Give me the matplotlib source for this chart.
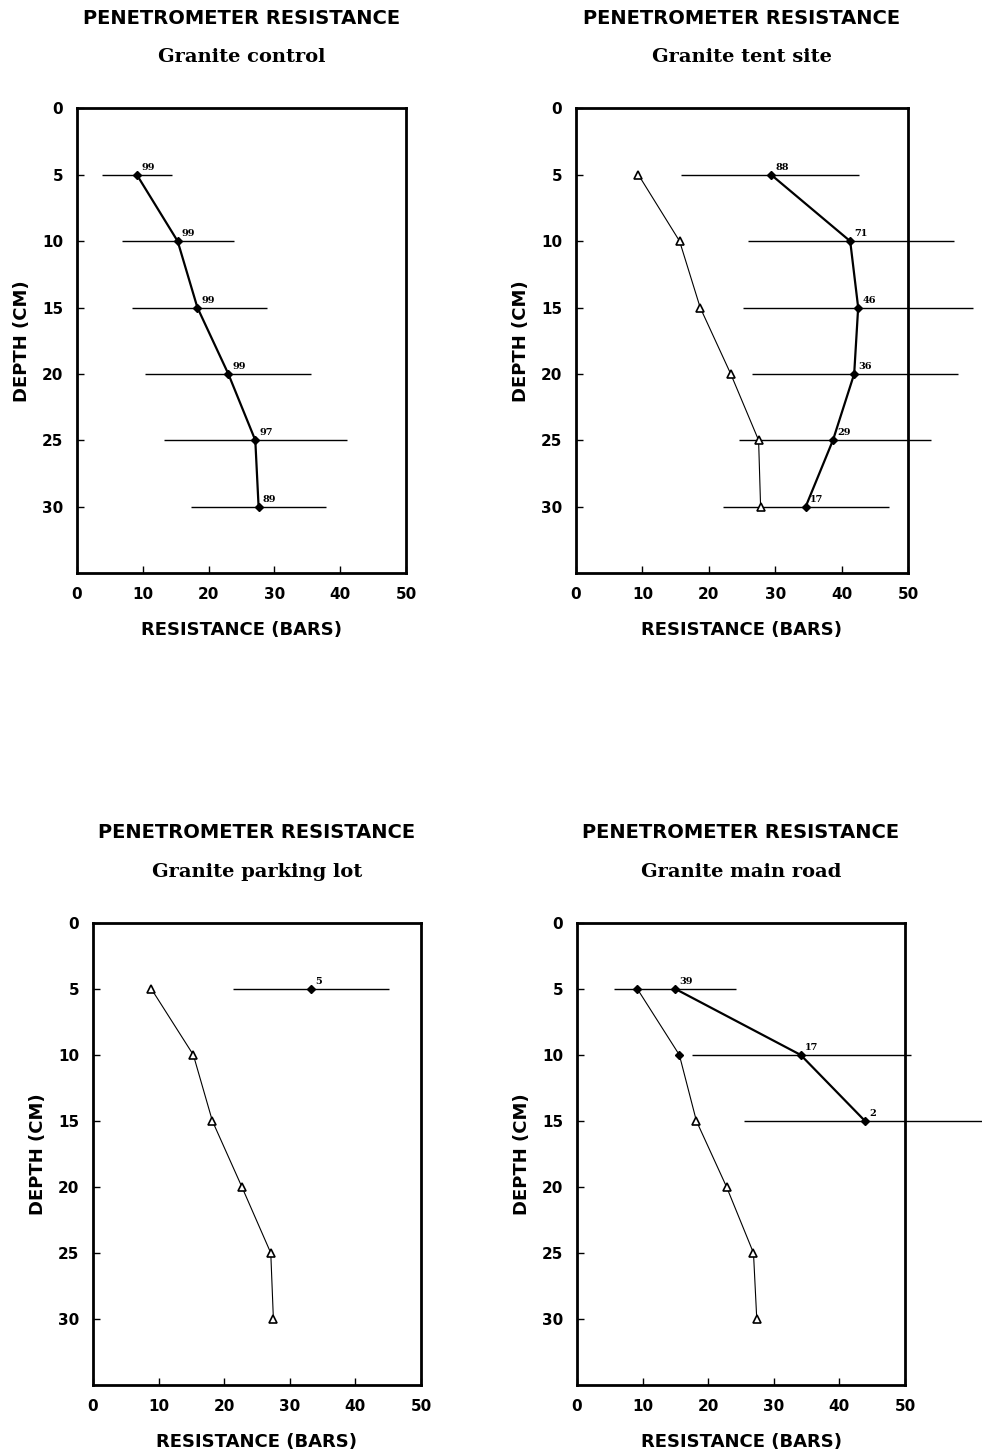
import matplotlib
matplotlib.use("Agg")
import matplotlib.pyplot as plt

# ---------------- data ----------------
depths = [5, 10, 15, 20, 25, 30]
x_ticks = [0, 10, 20, 30, 40, 50]
y_ticks = [0, 5, 10, 15, 20, 25, 30]

# Granite control
ctrl_mean = [9.1, 15.3, 18.3, 23.0, 27.1, 27.6]
ctrl_lo = [3.8, 6.8, 8.3, 10.3, 13.3, 17.4]
ctrl_hi = [14.5, 23.9, 28.9, 35.6, 41.1, 37.9]
ctrl_n = ["99", "99", "99", "99", "97", "89"]

# Granite tent site
tent_ref = [9.4, 15.6, 18.7, 23.3, 27.5, 27.8]
tent_mean = [29.4, 41.3, 42.5, 41.9, 38.7, 34.6]
tent_lo = [15.8, 25.9, 25.2, 26.5, 24.6, 22.2]
tent_hi = [42.7, 56.9, 59.8, 57.6, 53.5, 47.2]
tent_n = ["88", "71", "46", "36", "29", "17"]

# Granite parking lot
park_ref = [8.9, 15.3, 18.2, 22.7, 27.1, 27.5]
park_depth = [5]
park_mean = [33.2]
park_lo = [21.3]
park_hi = [45.1]
park_n = ["5"]

# Granite main road
road_ref = [9.2, 15.6, 18.2, 22.8, 26.9, 27.4]
road_depth = [5, 10, 15]
road_mean = [15.0, 34.1, 43.9]
road_lo = [5.7, 17.5, 25.5]
road_hi = [24.2, 50.9, 62.0]
road_n = ["39", "17", "2"]

subtitles = ["Granite control", "Granite tent site",
             "Granite parking lot", "Granite main road"]
title = "PENETROMETER RESISTANCE"

# ---------------- figure ----------------
fig = plt.figure(figsize=(9.82, 14.56), dpi=100)
positions = [
    [0.0784, 0.6065, 0.335, 0.3190],
    [0.5866, 0.6065, 0.338, 0.3190],
    [0.0947, 0.0488, 0.334, 0.3173],
    [0.5876, 0.0488, 0.334, 0.3173],
]

SANS = "DejaVu Sans"
SERIF = "DejaVu Serif"


def setup(ax, sub):
    ax.set_xlim(0, 50)
    ax.set_ylim(35, 0)
    ax.set_xticks(x_ticks)
    ax.set_yticks(y_ticks)
    ax.set_xticklabels([str(v) for v in x_ticks], fontfamily=SANS,
                       fontweight="bold", fontsize=11)
    ax.set_yticklabels([str(v) for v in y_ticks], fontfamily=SANS,
                       fontweight="bold", fontsize=11)
    ax.tick_params(direction="in", length=5, width=1, pad=10)
    for s in ax.spines.values():
        s.set_linewidth(2.0)
    ax.set_xlabel("RESISTANCE (BARS)", fontfamily=SANS, fontweight="bold",
                  fontsize=13, labelpad=14)
    ax.set_ylabel("DEPTH (CM)", fontfamily=SANS, fontweight="bold",
                  fontsize=13, labelpad=8)
    ax.annotate(title, xy=(0.5, 1), xycoords="axes fraction",
                xytext=(0, 65), textcoords="offset points", ha="center",
                va="center", fontfamily=SANS, fontweight="bold", fontsize=14)
    ax.annotate(sub, xy=(0.5, 1), xycoords="axes fraction",
                xytext=(0, 37), textcoords="offset points", ha="center",
                va="center", fontfamily=SERIF, fontweight="bold", fontsize=14)


def errbars(ax, d, lo, hi):
    ax.hlines(d, lo, hi, colors="black", linewidth=1.0, clip_on=False,
              zorder=2)


def nlabels(ax, xs, d, labels):
    for x, y, t in zip(xs, d, labels):
        ax.annotate(t, xy=(x, y), xytext=(3, 2), textcoords="offset points",
                    ha="left", va="bottom", fontsize=7, fontweight="bold",
                    fontfamily=SERIF)


def ref_line(ax, xs, d, filled_idx=()):
    ax.plot(xs, d, color="black", linewidth=0.8, zorder=3)
    tri_x = [x for i, x in enumerate(xs) if i not in filled_idx]
    tri_d = [y for i, y in enumerate(d) if i not in filled_idx]
    ax.plot(tri_x, tri_d, linestyle="none", marker="^", markersize=6,
            markerfacecolor="white", markeredgecolor="black",
            markeredgewidth=1.2, zorder=4)
    if filled_idx:
        ax.plot([xs[i] for i in filled_idx], [d[i] for i in filled_idx],
                linestyle="none", marker="D", markersize=4.5,
                color="black", zorder=4)


def main_line(ax, xs, d):
    ax.plot(xs, d, color="black", linewidth=1.6, marker="D", markersize=4.5,
            zorder=5)


axes = [fig.add_axes(p) for p in positions]
for ax, sub in zip(axes, subtitles):
    setup(ax, sub)

# control
ax = axes[0]
errbars(ax, depths, ctrl_lo, ctrl_hi)
main_line(ax, ctrl_mean, depths)
nlabels(ax, ctrl_mean, depths, ctrl_n)

# tent site
ax = axes[1]
ref_line(ax, tent_ref, depths)
errbars(ax, depths, tent_lo, tent_hi)
main_line(ax, tent_mean, depths)
nlabels(ax, tent_mean, depths, tent_n)

# parking lot
ax = axes[2]
ref_line(ax, park_ref, depths)
errbars(ax, park_depth, park_lo, park_hi)
main_line(ax, park_mean, park_depth)
nlabels(ax, park_mean, park_depth, park_n)

# main road
ax = axes[3]
ref_line(ax, road_ref, depths, filled_idx=(0, 1))
errbars(ax, road_depth, road_lo, road_hi)
main_line(ax, road_mean, road_depth)
nlabels(ax, road_mean, road_depth, road_n)

fig.savefig("out.png", dpi=100)
